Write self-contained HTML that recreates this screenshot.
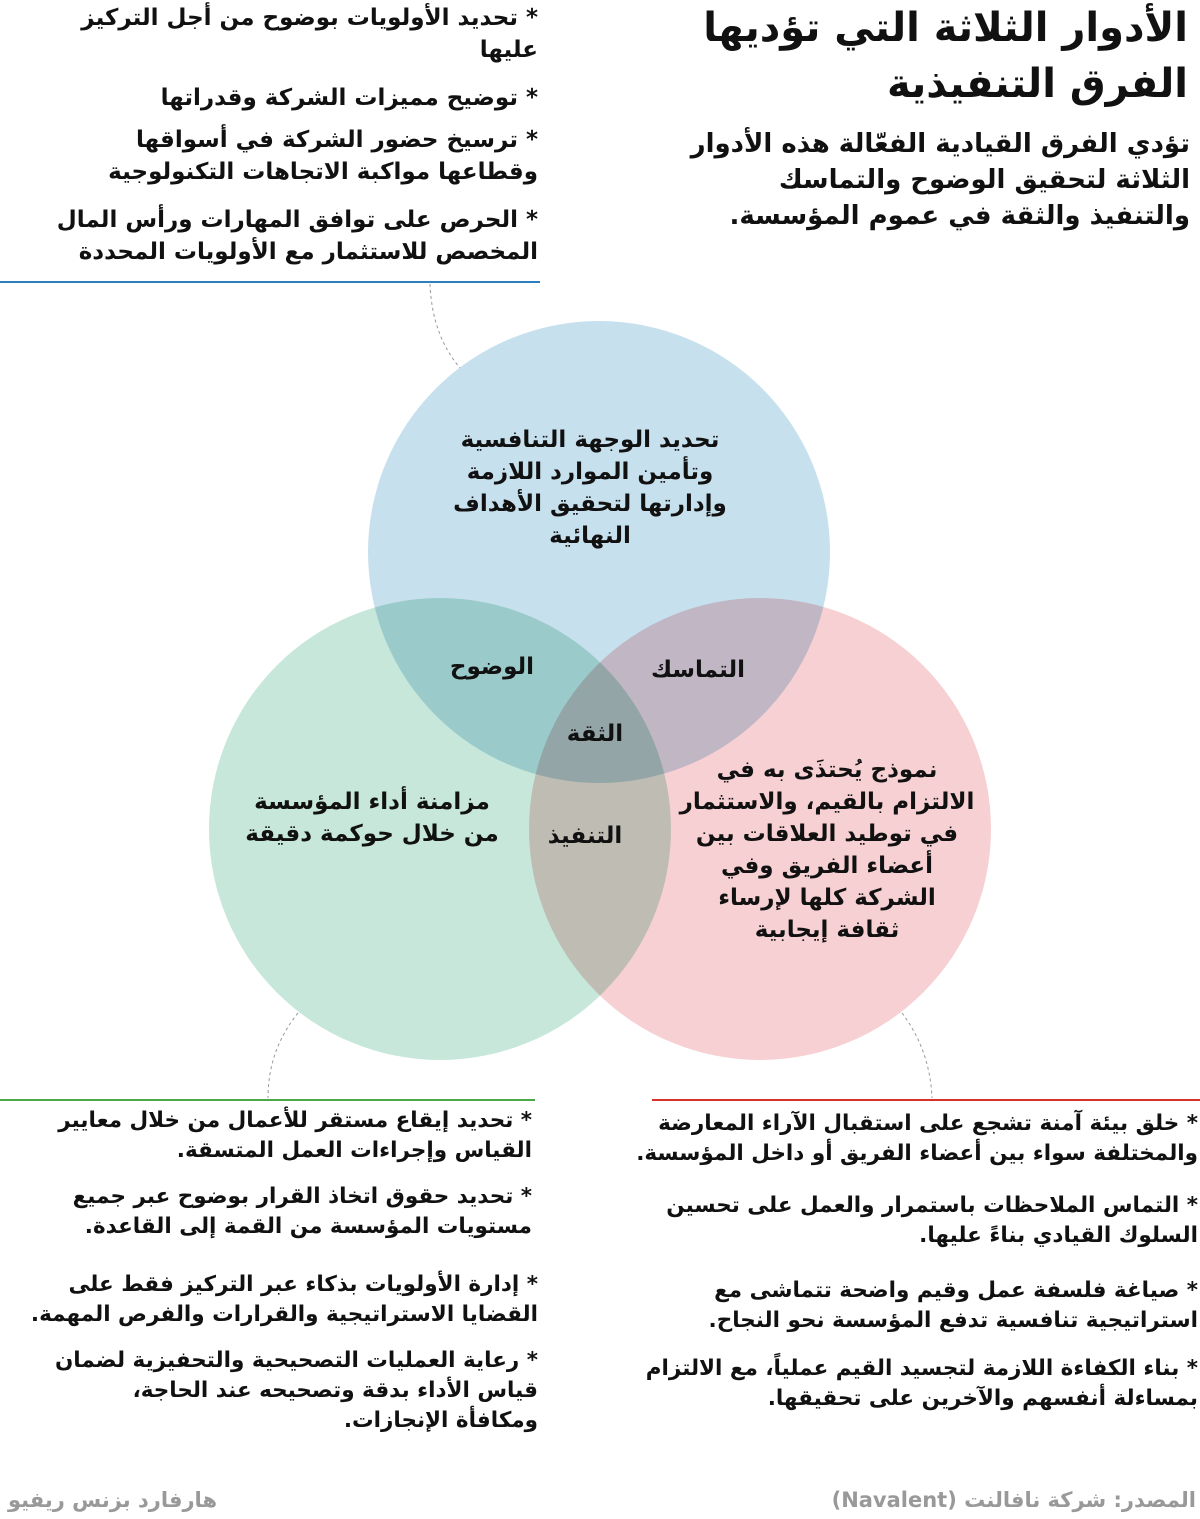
<!DOCTYPE html>
<html><head><meta charset="utf-8">
<style>
html,body{margin:0;padding:0;background:#fff;}
body{width:1200px;height:1519px;position:relative;overflow:hidden;font-family:"DejaVu Sans",sans-serif;color:#111;}
.t{position:absolute;direction:rtl;text-align:right;font-weight:bold;white-space:nowrap;}
.b{font-size:23px;line-height:32px;}
.bb{font-size:21.5px;line-height:30px;}
.c{position:absolute;border-radius:50%;width:462px;height:462px;mix-blend-mode:multiply;}
.ct{position:absolute;direction:rtl;text-align:center;font-weight:bold;font-size:23px;line-height:32px;white-space:nowrap;}
</style></head><body>
<div class="t" style="right:12px;top:0px;font-size:40px;line-height:56px;">الأدوار الثلاثة التي تؤديها<br>الفرق التنفيذية</div>
<div class="t" style="right:10px;top:126px;font-size:26px;line-height:36px;">تؤدي الفرق القيادية الفعّالة هذه الأدوار<br>الثلاثة لتحقيق الوضوح والتماسك<br>والتنفيذ والثقة في عموم المؤسسة.</div>

<div class="t b" style="right:662px;top:2px;">* تحديد الأولويات بوضوح من أجل التركيز<br>عليها</div>
<div class="t b" style="right:662px;top:82px;">* توضيح مميزات الشركة وقدراتها</div>
<div class="t b" style="right:662px;top:124px;">* ترسيخ حضور الشركة في أسواقها<br>وقطاعها مواكبة الاتجاهات التكنولوجية</div>
<div class="t b" style="right:662px;top:204px;">* الحرص على توافق المهارات ورأس المال<br>المخصص للاستثمار مع الأولويات المحددة</div>
<div style="position:absolute;left:0;top:281px;width:540px;height:2px;background:#2b7fc1"></div>

<svg style="position:absolute;left:0;top:0" width="1200" height="1519">
<path d="M430 284 Q432 335 460 368" fill="none" stroke="#999" stroke-width="1" stroke-dasharray="3,3"/>
<path d="M298 1013 Q268 1050 268 1098" fill="none" stroke="#999" stroke-width="1" stroke-dasharray="3,3"/>
<path d="M902 1013 Q930 1050 932 1098" fill="none" stroke="#999" stroke-width="1" stroke-dasharray="3,3"/>
</svg>

<div class="c" style="left:368px;top:321px;background:#c7e0ed"></div>
<div class="c" style="left:209px;top:598px;background:#c6e7da"></div>
<div class="c" style="left:529px;top:598px;background:#f6d0d3"></div>

<div class="ct" style="left:440px;top:424px;width:300px;">تحديد الوجهة التنافسية<br>وتأمين الموارد اللازمة<br>وإدارتها لتحقيق الأهداف<br>النهائية</div>
<div class="ct" style="left:432px;top:651px;width:120px;">الوضوح</div>
<div class="ct" style="left:638px;top:654px;width:120px;">التماسك</div>
<div class="ct" style="left:545px;top:718px;width:100px;">الثقة</div>
<div class="ct" style="left:535px;top:820px;width:100px;">التنفيذ</div>
<div class="ct" style="left:232px;top:786px;width:280px;">مزامنة أداء المؤسسة<br>من خلال حوكمة دقيقة</div>
<div class="ct" style="left:672px;top:754px;width:310px;">نموذج يُحتذَى به في<br>الالتزام بالقيم، والاستثمار<br>في توطيد العلاقات بين<br>أعضاء الفريق وفي<br>الشركة كلها لإرساء<br>ثقافة إيجابية</div>

<div style="position:absolute;left:0;top:1099px;width:535px;height:2px;background:#4aa94a"></div>
<div style="position:absolute;left:652px;top:1099px;width:548px;height:2px;background:#d9302c"></div>

<div class="t bb" style="right:668px;top:1106px;">* تحديد إيقاع مستقر للأعمال من خلال معايير<br>القياس وإجراءات العمل المتسقة.</div>
<div class="t bb" style="right:668px;top:1182px;">* تحديد حقوق اتخاذ القرار بوضوح عبر جميع<br>مستويات المؤسسة من القمة إلى القاعدة.</div>
<div class="t bb" style="right:662px;top:1270px;">* إدارة الأولويات بذكاء عبر التركيز فقط على<br>القضايا الاستراتيجية والقرارات والفرص المهمة.</div>
<div class="t bb" style="right:662px;top:1346px;">* رعاية العمليات التصحيحية والتحفيزية لضمان<br>قياس الأداء بدقة وتصحيحه عند الحاجة،<br>ومكافأة الإنجازات.</div>

<div class="t bb" style="right:2px;top:1109px;">* خلق بيئة آمنة تشجع على استقبال الآراء المعارضة<br>والمختلفة سواء بين أعضاء الفريق أو داخل المؤسسة.</div>
<div class="t bb" style="right:2px;top:1191px;">* التماس الملاحظات باستمرار والعمل على تحسين<br>السلوك القيادي بناءً عليها.</div>
<div class="t bb" style="right:2px;top:1276px;">* صياغة فلسفة عمل وقيم واضحة تتماشى مع<br>استراتيجية تنافسية تدفع المؤسسة نحو النجاح.</div>
<div class="t bb" style="right:2px;top:1354px;">* بناء الكفاءة اللازمة لتجسيد القيم عملياً، مع الالتزام<br>بمساءلة أنفسهم والآخرين على تحقيقها.</div>

<div class="t" style="right:4px;top:1488px;font-size:21px;color:#999;">المصدر: شركة نافالنت (Navalent)</div>
<div class="t" style="left:8px;top:1488px;font-size:21px;color:#999;">هارفارد بزنس ريفيو</div>
</body></html>
